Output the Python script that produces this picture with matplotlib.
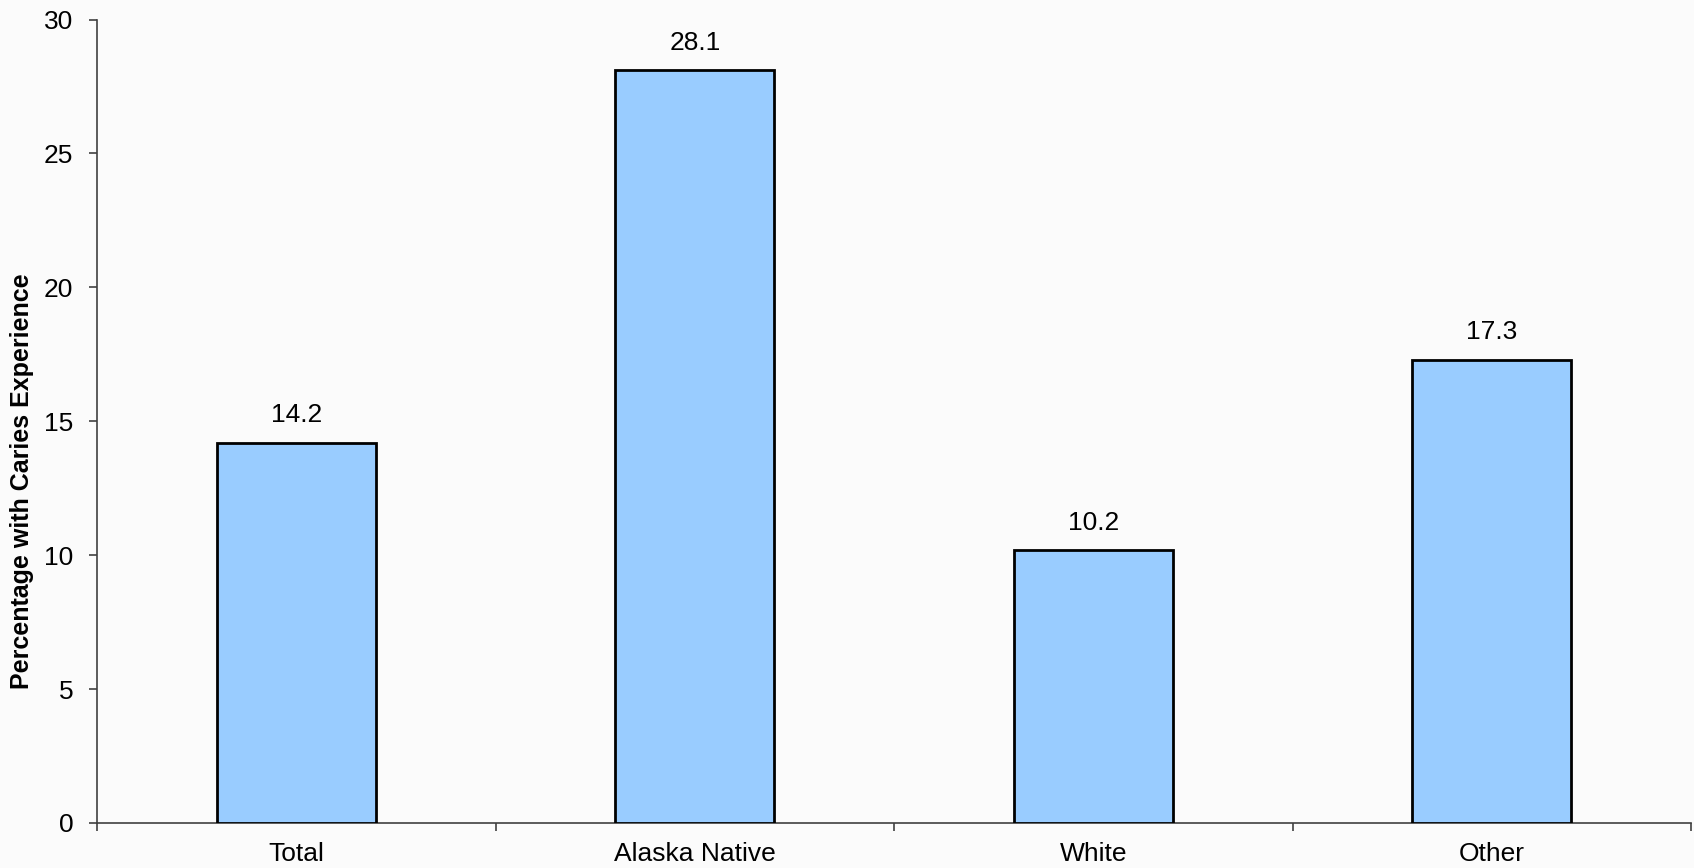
import matplotlib
matplotlib.use("Agg")
import matplotlib.pyplot as plt

categories = ["Total", "Alaska Native", "White", "Other"]
values = [14.2, 28.1, 10.2, 17.3]
yticks = [0, 5, 10, 15, 20, 25, 30]

plt.rcParams['font.family'] = ['Liberation Sans', 'DejaVu Sans']

W, H = 1694, 868
x0, x1, y0, y1 = 97, 1691, 823, 19.5
fig = plt.figure(figsize=(W/100, H/100), dpi=100, facecolor='#fbfbfb')
ax = fig.add_axes([x0/W, 1-y0/H, (x1-x0)/W, (y0-y1)/H])
ax.set_facecolor('none')

x = list(range(len(categories)))
ax.bar(x, values, width=0.4, color='#99CCFF', edgecolor='black', linewidth=2, zorder=3)
for xi, v in zip(x, values):
    ax.annotate(f"{v:.1f}", (xi, v), xytext=(0, 11), textcoords='offset points',
                ha='center', va='bottom', fontsize=19)

ax.set_xlim(-0.5, len(categories) - 0.5)
ax.set_ylim(0, 30)
ax.set_yticks(yticks)
ax.set_yticklabels([str(t) for t in yticks], fontsize=19)
ax.set_xticks(x)
ax.set_xticklabels(categories, fontsize=19)
ax.set_xticks([i + 0.5 for i in range(-1, len(categories))], minor=True)

for s in ['top', 'right']:
    ax.spines[s].set_visible(False)
for s in ['left', 'bottom']:
    ax.spines[s].set_color('#404040')
    ax.spines[s].set_linewidth(1.2)

ax.tick_params(axis='y', which='major', direction='out', length=6, width=1.2, color='#404040', pad=11)
ax.tick_params(axis='x', which='major', length=0, pad=14)
ax.tick_params(axis='x', which='minor', direction='out', length=6, width=1.2, color='#404040')

ax.set_ylabel("Percentage with Caries Experience", fontsize=18, fontweight='bold')
ax.yaxis.set_label_coords((34 - x0) / (x1 - x0), (y0 - 481) / (y0 - y1))

fig.savefig("out.png", dpi=100, facecolor=fig.get_facecolor())
